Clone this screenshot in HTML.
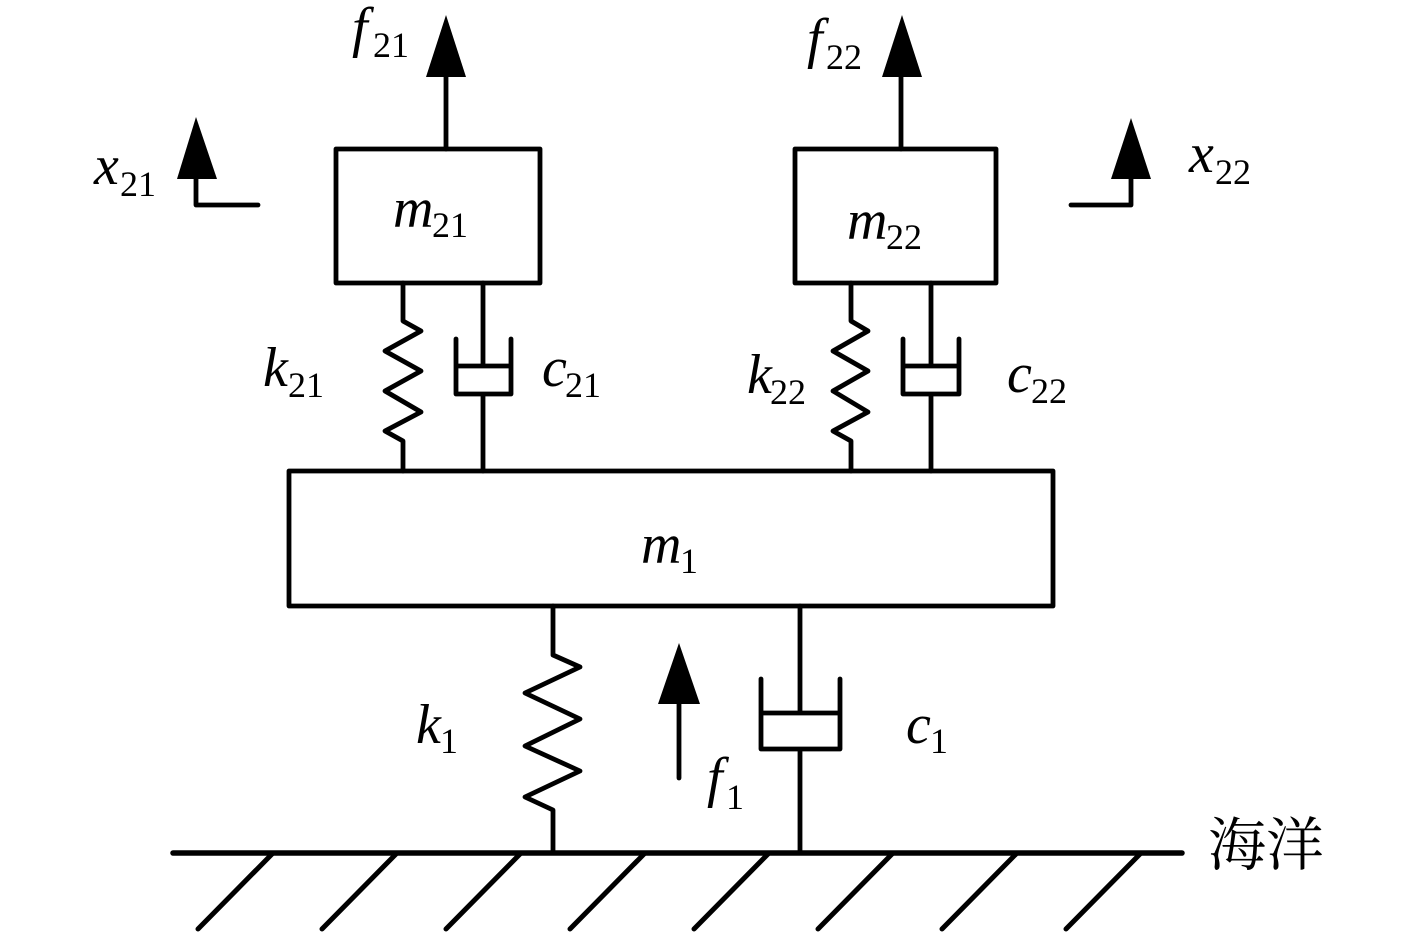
<!DOCTYPE html>
<html><head><meta charset="utf-8">
<style>
html,body{margin:0;padding:0;background:#fff}
svg{display:block}
text{font-family:"Liberation Serif","Times New Roman",serif;fill:#000}
.i{font-style:italic;font-size:56px}
.s{font-size:36px;font-style:normal}
</style></head><body>
<svg width="1417" height="938" viewBox="0 0 1417 938" xmlns="http://www.w3.org/2000/svg">
<g fill="none" stroke="#000" stroke-width="4.8" stroke-linecap="round" stroke-linejoin="round">
<rect x="336" y="149" width="204" height="134"/>
<rect x="795" y="149" width="201" height="134"/>
<rect x="289" y="471" width="764" height="135"/>
<path d="M446 149V70M901 149V70"/>
<path d="M196 175V205H258M1131 175V205H1071"/>
<path d="M403 283V321L421 331L385 351L421 371L385 391L421 412L385 431L403 441V471"/>
<path d="M851 283V321L868 331L833 351L868 371L833 391L868 412L833 431L851 441V471"/>
<path d="M483 283V366M456 339V394H511V339M456 366H511M483 394V471"/>
<path d="M931 283V366M903 339V394H959V339M903 366H959M931 394V471"/>
<path d="M553 606V655L580 667L525 693L580 719L525 746L580 771L525 797L553 810V852"/>
<path d="M800 606V713M761 679V749H840V679M761 713H840M800 749V852"/>
<path d="M679 778V700"/>
<path d="M173 853H1182" stroke-width="5.5"/>
<path d="M273 853L198 929M397 853L322 929M521 853L446 929M645 853L570 929M769 853L694 929M893 853L818 929M1017 853L942 929M1141 853L1066 929" stroke-width="5"/>
</g>
<g fill="#000">
<path d="M446 15L466 77H426Z"/>
<path d="M902 15L922 77H882Z"/>
<path d="M196 117L217 179H177Z"/>
<path d="M1131 118L1151 179H1111Z"/>
<path d="M679 643L700 704H658Z"/>
</g>
<text x="352" y="46" class="i">f</text><text x="373" y="57" class="s">21</text>
<text x="807" y="57" class="i">f</text><text x="826" y="69" class="s">22</text>
<text x="94" y="184" class="i">x</text><text x="120" y="196" class="s">21</text>
<text x="1189" y="172" class="i">x</text><text x="1215" y="184" class="s">22</text>
<text x="393" y="227" class="i">m</text><text x="432" y="237" class="s">21</text>
<text x="847" y="239" class="i">m</text><text x="886" y="249" class="s">22</text>
<text x="263" y="386" class="i">k</text><text x="288" y="397" class="s">21</text>
<text x="747" y="393" class="i">k</text><text x="770" y="404" class="s">22</text>
<text x="542" y="386" class="i">c</text><text x="565" y="397" class="s">21</text>
<text x="1007" y="392" class="i">c</text><text x="1031" y="403" class="s">22</text>
<text x="641" y="563" class="i">m</text><text x="680" y="573" class="s">1</text>
<text x="416" y="743" class="i">k</text><text x="440" y="753" class="s">1</text>
<text x="906" y="743" class="i">c</text><text x="930" y="753" class="s">1</text>
<text x="707" y="796" class="i">f</text><text x="726" y="809" class="s">1</text>
<text x="1208" y="865" font-size="58" style="font-family:'Noto Serif CJK SC',serif">海洋</text>
</svg>
</body></html>
